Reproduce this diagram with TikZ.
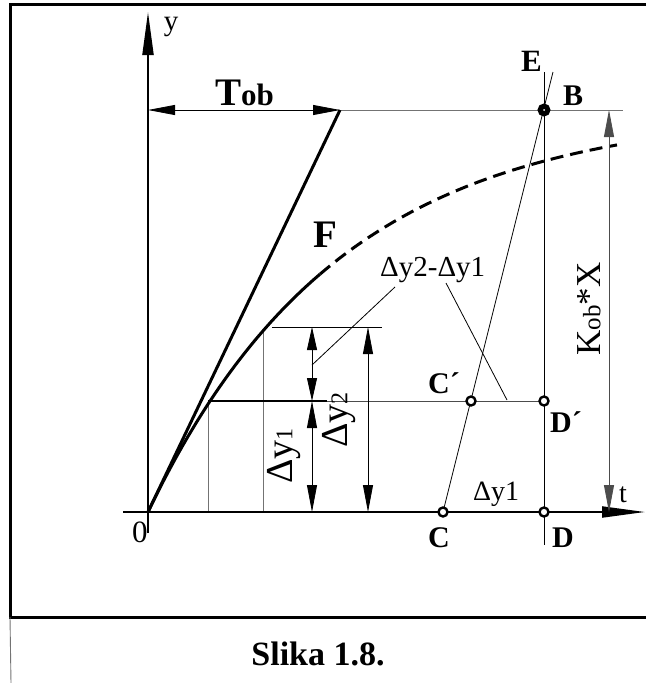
\documentclass[tikz,border=0pt]{standalone}
\usepackage{fontspec}
\setmainfont{Liberation Serif}
\usetikzlibrary{arrows.meta}
\begin{document}
\begin{tikzpicture}[x=1pt,y=-1pt,
  frame/.style={line width=3pt},
  axis/.style={line width=2pt},
  axarrow/.style={-{Triangle[length=43pt,width=11pt]}},
  dim/.style={line width=0.8pt,{Triangle[length=27pt,width=10pt]}-{Triangle[length=27pt,width=10pt]}},
  dimsmall/.style={line width=0.8pt,{Triangle[length=23pt,width=10pt]}-{Triangle[length=23pt,width=10pt]}},
  thinline/.style={line width=0.8pt},
  grayline/.style={line width=0.9pt, draw=black!55},
  heavy/.style={line width=3pt},
  dot/.style={circle, draw, line width=2.4pt, fill=white, inner sep=0pt, minimum size=9pt},
  bdot/.style={circle, draw, line width=2pt, fill=black, inner sep=0pt, minimum size=11pt},
  lbl/.style={font=\fontsize{30}{30}\selectfont\bfseries, inner sep=0pt},
  txt/.style={font=\fontsize{30}{30}\selectfont, inner sep=0pt},
]
\useasboundingbox (0,0) rectangle (646,683);

% frame
\coordinate (f1) at (646,4);
\coordinate (f2) at (10,4);
\coordinate (f3) at (10,617);
\coordinate (f4) at (646,617);
\coordinate (f5) at (11,683);
\draw[frame] (f1) -- (f2) -- (f3) -- (f4);
\draw[grayline] (f3) -- (f5);

% key points
\coordinate (O) at (148,512);
\coordinate (ybot) at (148,533);
\coordinate (ytop) at (148,12);
\coordinate (tleft) at (123,512);
\coordinate (tright) at (645,512);
\coordinate (T0) at (148,110);
\coordinate (T1) at (340,110);
\coordinate (ext) at (623,110);
\coordinate (pC) at (443,512);
\coordinate (pCp) at (471,401);
\coordinate (pDp) at (544,401);
\coordinate (pD) at (544,512);
\coordinate (pB) at (544,110);
\coordinate (Etop) at (553,72);
\coordinate (Dtop) at (544,72);
\coordinate (Dbot) at (544,545);

% grid helper lines
\coordinate (h1a) at (208,401);
\coordinate (h1b) at (327,401);
\coordinate (v1b) at (208,512);
\coordinate (v2a) at (263,330);
\coordinate (v2b) at (263,512);
\coordinate (h2a) at (272,327);
\coordinate (h2b) at (382,327);
\draw[grayline] (h1a) -- (v1b);
\draw[grayline] (v2a) -- (v2b);
\draw[thinline] (h2a) -- (h2b);
\draw[line width=1.6pt] (h1a) -- (h1b);
\draw[thinline, draw=black!70] (h1b) -- (pDp);

% axes
\draw[axis,axarrow] (ybot) -- (ytop);
\draw[axis,axarrow] (tleft) -- (tright);

% Tob dimension and extension
\draw[dim] (T0) -- (T1);
\draw[grayline] (T1) -- (ext);

% tangent and curve
\draw[heavy] (O) -- (T1);
\draw[heavy] plot[domain=0:172, samples=50, smooth] ({148+\x},{512-402*(1-exp(-\x/192))});
\draw[heavy, dash pattern=on 13pt off 7pt] plot[domain=172:469, samples=50, smooth] ({148+\x},{512-402*(1-exp(-\x/192))});

% construction lines
\draw[thinline] (pC) -- (Etop);
\draw[thinline] (Dtop) -- (Dbot);

% dimension lines
\coordinate (d1a) at (312,327);
\coordinate (d1b) at (312,401);
\coordinate (d1c) at (312,512);
\draw[dimsmall] (d1a) -- (d1b);
\draw[dim] (d1b) -- (d1c);
\coordinate (d2a) at (368,327);
\coordinate (d2b) at (368,512);
\draw[dim] (d2a) -- (d2b);
\coordinate (k1) at (609,110);
\coordinate (k2) at (609,512);
\draw[dim, draw=black!70] (k1) -- (k2);

% leaders
\coordinate (la) at (312,365);
\coordinate (lb) at (395,287);
\coordinate (lc) at (446,283);
\coordinate (ld) at (507,400);
\draw[thinline] (la) -- (lb);
\draw[thinline] (lc) -- (ld);

% points
\node[dot] (C) at (pC) {};
\node[dot] (Cp) at (pCp) {};
\node[dot] (Dp) at (pDp) {};
\node[dot] (D) at (pD) {};
\node[bdot] (B) at (pB) {};
\node[circle, fill=white, inner sep=0pt, minimum size=2pt] (Bc) at (pB) {};

% labels
\node[txt, font=\fontsize{29}{29}\selectfont] (ylab) at (171,27) {y};
\node[txt, font=\fontsize{28}{28}\selectfont, anchor=base west] (tlab) at (619,502) {t};
\node[txt, font=\fontsize{31}{31}\selectfont, anchor=base west] (zlab) at (132,542) {0};
\node[lbl, anchor=base west] (Tob) at (215,105) {{\fontsize{39}{39}\selectfont T}{\fontsize{31}{31}\selectfont ob}};
\node[lbl, font=\fontsize{39}{39}\selectfont\bfseries, anchor=base west] (Flab) at (313,247) {F};
\node[lbl, font=\fontsize{31}{31}\selectfont\bfseries, anchor=base west] (Elab) at (521,71) {E};
\node[lbl, anchor=base west] (Blab) at (563,105) {B};
\node[lbl, anchor=base west] (Cplab) at (428,393) {C´};
\node[lbl, anchor=base west] (Dplab) at (550,432) {D´};
\node[lbl, anchor=base west] (Clab) at (428,547) {C};
\node[lbl, anchor=base west] (Dlab) at (552,547) {D};
\node[txt, font=\fontsize{28}{28}\selectfont, anchor=base west] (dy1b) at (473,500) {Δy1};
\node[txt, font=\fontsize{29}{29}\selectfont, anchor=base west] (dydiff) at (380,276) {Δy2-Δy1};
\node[txt, font=\fontsize{38}{38}\selectfont, rotate=90] (dy1) at (284,456) {Δy{\fontsize{24}{24}\selectfont 1}};
\node[txt, font=\fontsize{38}{38}\selectfont, rotate=90] (dy2) at (339,420) {Δy{\fontsize{24}{24}\selectfont 2}};
\node[txt, font=\fontsize{35}{35}\selectfont, rotate=90] (kob) at (589,309) {K{\fontsize{25}{25}\selectfont ob}*X};
\node[lbl, font=\fontsize{34}{34}\selectfont\bfseries, anchor=base] (cap) at (318,665) {Slika 1.8.};
\end{tikzpicture}
\end{document}
